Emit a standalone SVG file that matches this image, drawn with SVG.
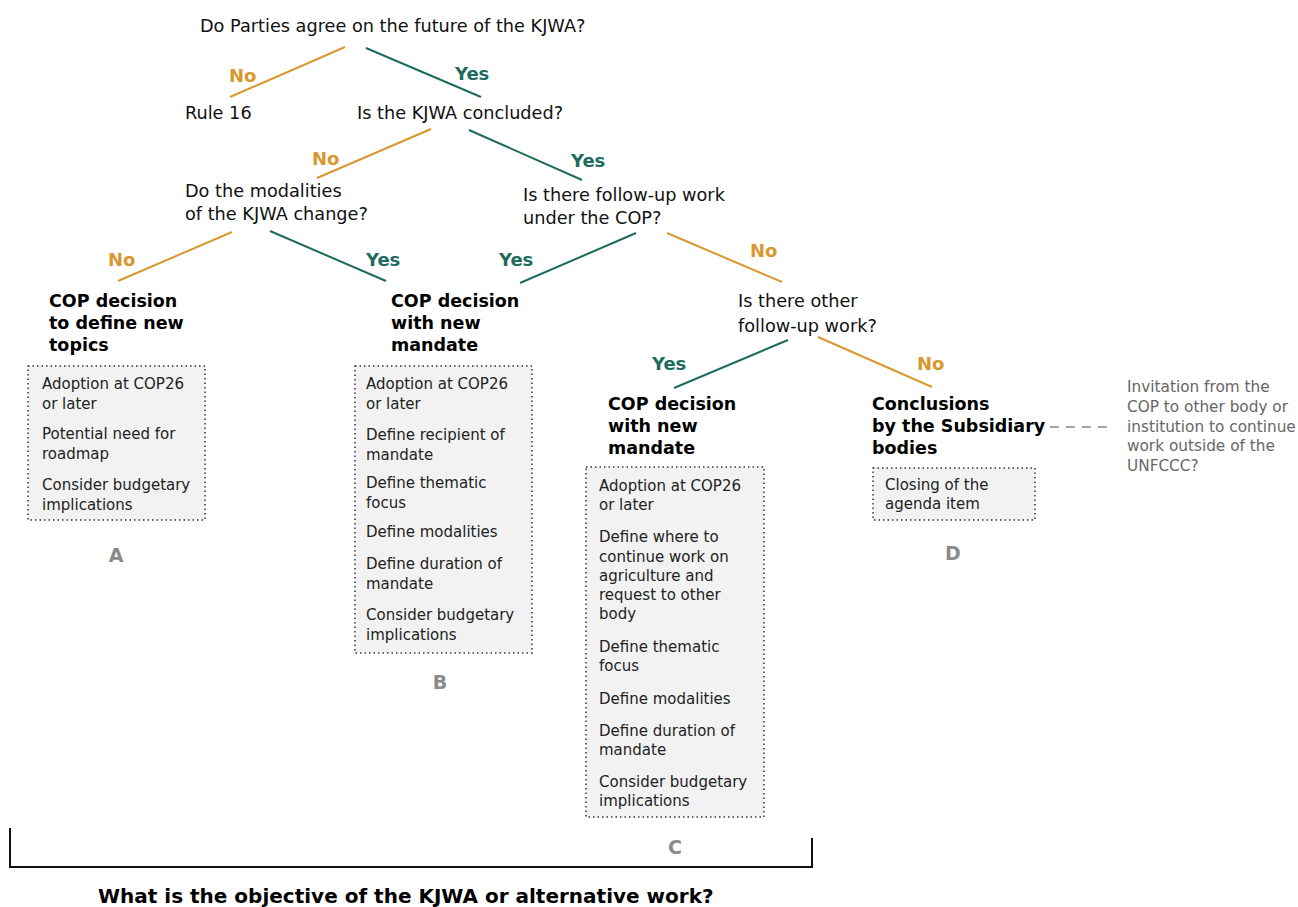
<svg xmlns="http://www.w3.org/2000/svg" width="1298" height="907" viewBox="0 0 1298 907">
<style>
.t{font-family:"DejaVu Sans","Verdana",sans-serif;font-size:17.7px;fill:#111}
.b{font-family:"DejaVu Sans","Verdana",sans-serif;font-size:17.5px;font-weight:bold;fill:#000}
.s{font-family:"DejaVu Sans","Verdana",sans-serif;font-size:15px;fill:#222}
.g{font-family:"DejaVu Sans","Verdana",sans-serif;font-size:15.3px;fill:#666}
.no{font-family:"DejaVu Sans","Verdana",sans-serif;font-size:18px;font-weight:bold;fill:#D9982E}
.yes{font-family:"DejaVu Sans","Verdana",sans-serif;font-size:18px;font-weight:bold;fill:#1D6B5E}
.lt{font-family:"DejaVu Sans","Verdana",sans-serif;font-size:19px;font-weight:bold;fill:#8a8a8a}
.box{fill:#f2f2f2;stroke:#333;stroke-width:1.5;stroke-dasharray:1.5 3}
.ln{fill:none;stroke-width:2}
.o{stroke:#D9982E}
.y{stroke:#1D6B5E}
</style>
<rect width="1298" height="907" fill="#fff"/>
<g id="connectors">
<line class="ln o" x1="345" y1="47" x2="230" y2="97"/>
<line class="ln y" x1="366" y1="48" x2="481" y2="97"/>
<line class="ln o" x1="431" y1="129" x2="317" y2="178"/>
<line class="ln y" x1="469" y1="130" x2="582" y2="180"/>
<line class="ln o" x1="232" y1="232" x2="118" y2="281"/>
<line class="ln y" x1="270" y1="231" x2="386" y2="281"/>
<line class="ln y" x1="636" y1="233" x2="520" y2="283"/>
<line class="ln o" x1="667" y1="233" x2="782" y2="282"/>
<line class="ln y" x1="788" y1="340" x2="674" y2="388"/>
<line class="ln o" x1="818" y1="337" x2="932" y2="387"/>
<line x1="1050" y1="427" x2="1112" y2="427" stroke="#888" stroke-width="1.3" stroke-dasharray="9 7"/>
<text class="no" x="229" y="81.5">No</text>
<text class="yes" x="455" y="79.5">Yes</text>
<text class="no" x="312" y="164.5">No</text>
<text class="yes" x="571" y="166.5">Yes</text>
<text class="no" x="108" y="265.5">No</text>
<text class="yes" x="366" y="265.5">Yes</text>
<text class="yes" x="499" y="265.5">Yes</text>
<text class="no" x="750" y="256.5">No</text>
<text class="yes" x="652" y="369.5">Yes</text>
<text class="no" x="917" y="369.5">No</text>
</g>
<g id="q1"><text class="t" x="200" y="31.5">Do Parties agree on the future of the KJWA?</text></g>
<g id="rule16"><text class="t" x="185" y="118.5">Rule 16</text></g>
<g id="q2"><text class="t" x="357" y="118.5">Is the KJWA concluded?</text></g>
<g id="q3"><text class="t" x="185" y="196.5">Do the modalities</text><text class="t" x="185" y="219.5">of the KJWA change?</text></g>
<g id="q4"><text class="t" x="523" y="200.5">Is there follow-up work</text><text class="t" x="523" y="223.5">under the COP?</text></g>
<g id="q5"><text class="t" x="738" y="306.5">Is there other</text><text class="t" x="738" y="331.5">follow-up work?</text></g>
<g id="A">
<text class="b" x="49" y="307">COP decision</text>
<text class="b" x="49" y="329">to define new</text>
<text class="b" x="49" y="351">topics</text>
<rect class="box" x="28" y="366" width="177" height="154"/>
<text class="s" x="42" y="388.5">Adoption at COP26</text>
<text class="s" x="42" y="408.5">or later</text>
<text class="s" x="42" y="438.5">Potential need for</text>
<text class="s" x="42" y="458.5">roadmap</text>
<text class="s" x="42" y="489.5">Consider budgetary</text>
<text class="s" x="42" y="509.5">implications</text>
<text class="lt" x="116" y="562" text-anchor="middle">A</text>
</g>
<g id="B">
<text class="b" x="391" y="307">COP decision</text>
<text class="b" x="391" y="329">with new</text>
<text class="b" x="391" y="351">mandate</text>
<rect class="box" x="355" y="366" width="177" height="287"/>
<text class="s" x="366" y="388.5">Adoption at COP26</text>
<text class="s" x="366" y="408.5">or later</text>
<text class="s" x="366" y="439.5">Define recipient of</text>
<text class="s" x="366" y="459.5">mandate</text>
<text class="s" x="366" y="487.5">Define thematic</text>
<text class="s" x="366" y="507.5">focus</text>
<text class="s" x="366" y="536.5">Define modalities</text>
<text class="s" x="366" y="568.5">Define duration of</text>
<text class="s" x="366" y="588.5">mandate</text>
<text class="s" x="366" y="619.5">Consider budgetary</text>
<text class="s" x="366" y="639.5">implications</text>
<text class="lt" x="440" y="689" text-anchor="middle">B</text>
</g>
<g id="C">
<text class="b" x="608" y="410">COP decision</text>
<text class="b" x="608" y="432">with new</text>
<text class="b" x="608" y="454">mandate</text>
<rect class="box" x="586" y="467" width="178" height="350"/>
<text class="s" x="599" y="490.5">Adoption at COP26</text>
<text class="s" x="599" y="509.5">or later</text>
<text class="s" x="599" y="541.5">Define where to</text>
<text class="s" x="599" y="561.5">continue work on</text>
<text class="s" x="599" y="580.5">agriculture and</text>
<text class="s" x="599" y="599.5">request to other</text>
<text class="s" x="599" y="618.5">body</text>
<text class="s" x="599" y="651.5">Define thematic</text>
<text class="s" x="599" y="670.5">focus</text>
<text class="s" x="599" y="703.5">Define modalities</text>
<text class="s" x="599" y="735.5">Define duration of</text>
<text class="s" x="599" y="754.5">mandate</text>
<text class="s" x="599" y="786.5">Consider budgetary</text>
<text class="s" x="599" y="805.5">implications</text>
<text class="lt" x="675" y="854" text-anchor="middle">C</text>
</g>
<g id="D">
<text class="b" x="872" y="410">Conclusions</text>
<text class="b" x="872" y="432">by the Subsidiary</text>
<text class="b" x="872" y="454">bodies</text>
<rect class="box" x="873" y="468" width="162" height="52"/>
<text class="s" x="885" y="489.5">Closing of the</text>
<text class="s" x="885" y="508.5">agenda item</text>
<text class="lt" x="953" y="560" text-anchor="middle">D</text>
</g>
<g id="invitation">
<text class="g" x="1127" y="391.5">Invitation from the</text>
<text class="g" x="1127" y="411.5">COP to other body or</text>
<text class="g" x="1127" y="431.5">institution to continue</text>
<text class="g" x="1127" y="450.5">work outside of the</text>
<text class="g" x="1127" y="470.5">UNFCCC?</text>
</g>
<g id="bracket">
<polyline points="10,828 10,867 812,867 812,838" fill="none" stroke="#111" stroke-width="2"/>
<text class="b" x="98" y="903" style="font-size:20px">What is the objective of the KJWA or alternative work?</text>
</g>
</svg>
